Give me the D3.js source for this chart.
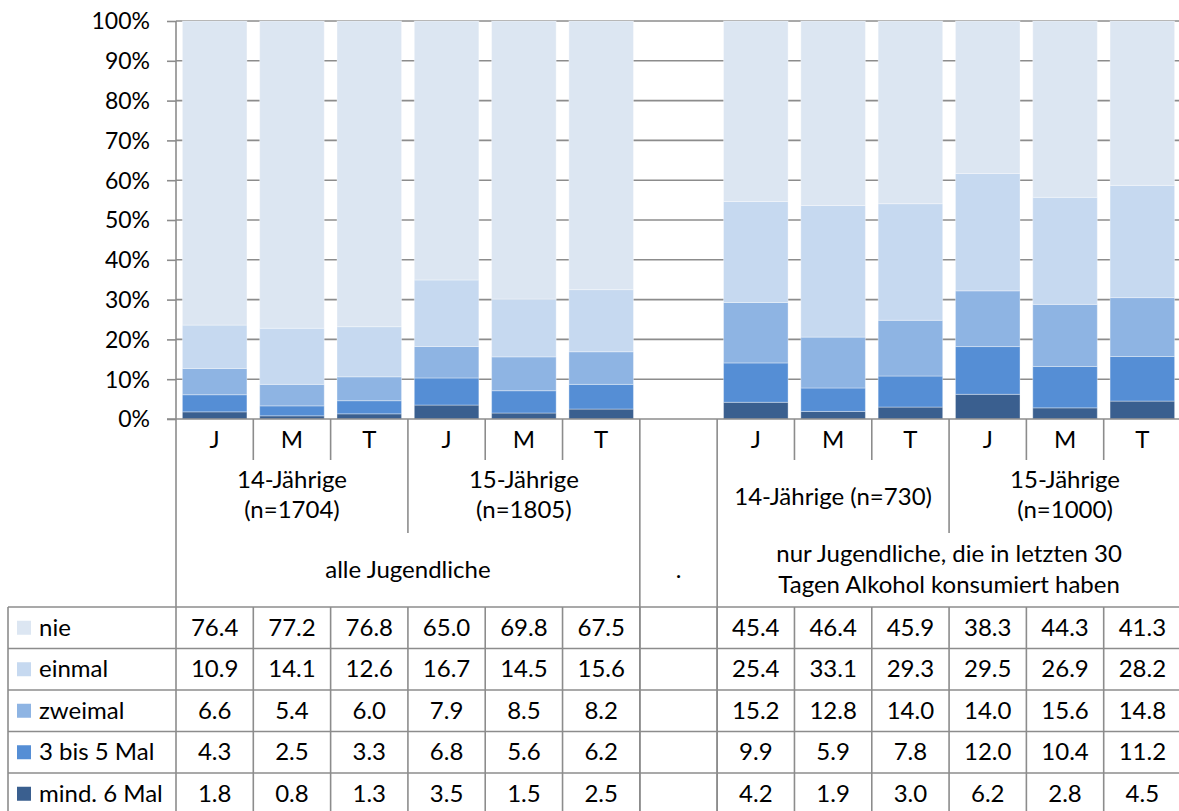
<!DOCTYPE html>
<html><head><meta charset="utf-8">
<script src="https://cdn.jsdelivr.net/npm/d3@7"></script>
<style>
html,body{margin:0;padding:0;background:#fff;}
svg{display:block;font-family:Lato,"Open Sans",sans-serif;}
</style></head>
<body><svg id="c" width="1179" height="811"></svg>
<script>
// ---- data ----
const categories = ["J","M","T","J","M","T","","J","M","T","J","M","T"];
const seriesNames = ["nie","einmal","zweimal","3 bis 5 Mal","mind. 6 Mal"];
const nie        = [76.4,77.2,76.8,65.0,69.8,67.5,null,45.4,46.4,45.9,38.3,44.3,41.3];
const einmal     = [10.9,14.1,12.6,16.7,14.5,15.6,null,25.4,33.1,29.3,29.5,26.9,28.2];
const zweimal    = [6.6,5.4,6.0,7.9,8.5,8.2,null,15.2,12.8,14.0,14.0,15.6,14.8];
const dreiBis5   = [4.3,2.5,3.3,6.8,5.6,6.2,null,9.9,5.9,7.8,12.0,10.4,11.2];
const mind6      = [1.8,0.8,1.3,3.5,1.5,2.5,null,4.2,1.9,3.0,6.2,2.8,4.5];
const seriesColors = ["#dce6f2","#c6d9f0","#8eb4e3","#558ed5","#3a5f8f"];
const yTicks = [0,10,20,30,40,50,60,70,80,90,100];
const groupLabels = [
  {lines:["14-Jährige","(n=1704)"], from:0, to:3},
  {lines:["15-Jährige","(n=1805)"], from:3, to:6},
  {lines:[], from:6, to:7},
  {lines:["14-Jährige (n=730)"], from:7, to:10},
  {lines:["15-Jährige","(n=1000)"], from:10, to:13}
];
const superLabels = [
  {lines:["alle Jugendliche"], from:0, to:6},
  {lines:["."], from:6, to:7},
  {lines:["nur Jugendliche, die in letzten 30","Tagen Alkohol konsumiert haben"], from:7, to:13}
];

// ---- build ----
const valuesBySeries = [nie, einmal, zweimal, dreiBis5, mind6];
const idx = d3.range(categories.length);
const rows = idx.map(i => {
  const r = {i};
  seriesNames.forEach((s,k) => r[s] = valuesBySeries[k][i] == null ? 0 : valuesBySeries[k][i]);
  return r;
});
const stackOrder = seriesNames.slice().reverse(); // bottom: mind. 6 Mal
const stack = d3.stack().keys(stackOrder).offset(d3.stackOffsetExpand);
const stacked = stack(rows);
const color = d3.scaleOrdinal().domain(seriesNames).range(seriesColors);

const svg = d3.select("#c");
const x0 = 176, x1 = 1181, yTop = 21, yBot = 419;
const x = d3.scaleBand().domain(idx).range([x0, x1]).paddingInner(0.165).paddingOuter(0.0825);
const y = d3.scaleLinear().domain([0, 1]).range([yBot, yTop]);
const step = x.step();
const bound = i => x0 + i * step; // category boundary

const lineColor = "#8c8c8c";
const lw = 1.6;
const fs = 24;

// gridlines
svg.append("g").selectAll("line").data(yTicks.slice(1)).join("line")
  .attr("x1", x0).attr("x2", x1)
  .attr("y1", d => y(d/100)).attr("y2", d => y(d/100))
  .attr("stroke", lineColor).attr("stroke-width", lw);

// bars
svg.append("g").selectAll("g").data(stacked).join("g")
  .attr("fill", d => color(d.key))
  .selectAll("rect").data(d => d.filter(p => !isNaN(p[1]) && p[1] > p[0])).join("rect")
  .attr("x", d => x(d.data.i))
  .attr("width", x.bandwidth())
  .attr("y", d => y(d[1]))
  .attr("height", d => y(d[0]) - y(d[1]))
  .attr("stroke", "#ffffff").attr("stroke-opacity", 0.35).attr("stroke-width", 1);

// y axis
const yAxis = d3.axisLeft(y).tickValues(yTicks.map(v => v/100)).tickFormat(d => Math.round(d*100) + "%").tickSize(9).tickPadding(17);
const ga = svg.append("g").attr("transform", `translate(${x0},0)`).call(yAxis);
ga.select(".domain").remove();
ga.selectAll(".tick line").attr("stroke", lineColor).attr("stroke-width", lw);
ga.selectAll(".tick text").attr("font-size", 23).attr("font-family", "Lato").attr("fill", "#000").attr("dy", "0.34em");

// axis lines
svg.append("line").attr("x1", x0).attr("x2", x0).attr("y1", yTop).attr("y2", 811)
  .attr("stroke", lineColor).attr("stroke-width", lw);
svg.append("line").attr("x1", 167).attr("x2", x1).attr("y1", yBot).attr("y2", yBot)
  .attr("stroke", lineColor).attr("stroke-width", lw);

// category dividers
const hdr = svg.append("g");
idx.slice(1).forEach(i => {
  let yEnd = 460;
  if (groupLabels.some(g => g.from === i)) yEnd = 533;
  if (superLabels.some(g => g.from === i)) yEnd = 811;
  hdr.append("line").attr("x1", bound(i)).attr("x2", bound(i)).attr("y1", yBot).attr("y2", yEnd)
    .attr("stroke", lineColor).attr("stroke-width", lw);
});

// category labels
hdr.selectAll("text.cat").data(idx).join("text").attr("class","cat")
  .attr("x", i => x(i) + x.bandwidth()/2).attr("y", 448)
  .attr("text-anchor", "middle").attr("font-size", fs).text(i => categories[i]);

function multi(list, single, two) {
  list.forEach(g => {
    const cx = (bound(g.from) + bound(g.to)) / 2;
    const ys = g.lines.length === 1 ? [single] : two;
    g.lines.forEach((t, k) => {
      hdr.append("text").attr("x", cx).attr("y", ys[k]).attr("text-anchor", "middle")
        .attr("font-size", fs).text(t);
    });
  });
}
multi(groupLabels, 505, [488, 518]);
multi(superLabels, 578, [562, 593]);

// data table
const tTop = 607, rowH = 41.5, tLeft = 8;
const tb = svg.append("g");
d3.range(seriesNames.length + 1).forEach(r => {
  tb.append("line").attr("x1", tLeft).attr("x2", x1).attr("y1", tTop + r*rowH).attr("y2", tTop + r*rowH)
    .attr("stroke", lineColor).attr("stroke-width", lw);
});
tb.append("line").attr("x1", tLeft).attr("x2", tLeft).attr("y1", tTop).attr("y2", 811)
  .attr("stroke", lineColor).attr("stroke-width", lw);
idx.slice(1).forEach(i => {
  tb.append("line").attr("x1", bound(i)).attr("x2", bound(i)).attr("y1", tTop).attr("y2", 811)
    .attr("stroke", lineColor).attr("stroke-width", lw);
});
seriesNames.forEach((s, r) => {
  const cy = tTop + r*rowH + rowH/2;
  tb.append("rect").attr("x", 17).attr("y", cy - 7).attr("width", 14).attr("height", 14).attr("fill", color(s));
  tb.append("text").attr("x", 39).attr("y", cy + 8).attr("font-size", fs).text(s);
  valuesBySeries[r].forEach((v, i) => {
    if (v == null) return;
    tb.append("text").attr("x", x(i) + x.bandwidth()/2).attr("y", cy + 8)
      .attr("text-anchor", "middle").attr("font-size", fs).text(v.toFixed(1));
  });
});
</script></body></html>
